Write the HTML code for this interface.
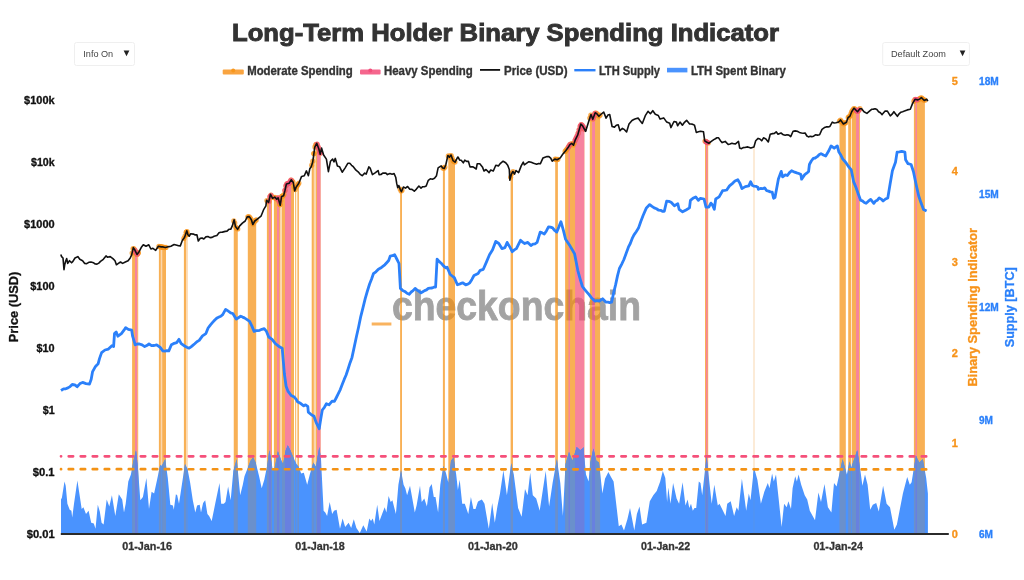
<!DOCTYPE html>
<html><head><meta charset="utf-8"><style>
html,body{margin:0;padding:0;background:#fff;width:1024px;height:580px;overflow:hidden}
svg{display:block;font-family:"Liberation Sans",sans-serif;will-change:transform}
</style></head><body>
<svg width="1024" height="580" viewBox="0 0 1024 580">
<defs>
<clipPath id="cp"><polygon points="60.8,254.5 61.6,256.6 63.0,258.0 64.0,269.7 64.7,264.8 65.8,260.7 66.7,258.6 67.7,263.4 69.5,260.7 71.6,262.8 72.9,261.4 75.0,258.0 77.8,256.6 79.8,259.3 82.6,260.7 84.7,263.4 86.7,263.7 90.9,262.0 93.6,262.8 97.0,264.1 100.5,261.4 103.3,259.3 106.0,255.9 107.4,257.2 110.2,256.6 112.9,258.6 115.0,260.7 116.4,264.8 118.4,263.4 120.5,262.0 122.6,263.4 125.3,262.0 128.1,260.7 130.2,257.9 131.6,255.2 133.3,247.6 135.0,250.3 137.0,254.5 139.1,251.7 141.2,247.6 143.3,244.8 146.0,246.2 148.8,244.8 150.9,249.0 152.9,248.3 155.7,250.3 158.4,246.2 161.2,246.9 165.3,247.6 170.9,246.2 174.1,244.5 176.9,245.2 180.3,245.9 182.4,240.3 184.5,237.6 186.8,230.7 187.9,234.8 189.3,236.2 190.7,233.7 193.4,234.1 196.9,234.8 198.3,241.0 200.3,238.3 203.8,239.0 205.9,236.9 210.0,237.6 214.1,236.2 216.9,235.5 219.0,232.8 222.4,232.1 225.2,231.4 230.7,229.3 232.3,225.9 234.1,219.7 235.5,226.6 237.6,229.3 239.7,225.9 242.4,223.1 245.2,221.0 247.2,216.9 249.3,216.6 251.4,219.7 252.8,224.5 254.8,221.0 258.3,218.3 261.0,216.2 263.8,209.3 265.9,205.9 266.6,200.3 268.6,202.4 270.5,194.3 272.6,198.4 274.7,197.1 276.7,199.1 278.1,197.8 280.2,205.3 281.6,196.4 283.6,195.7 285.0,190.2 286.4,184.0 289.1,183.3 291.2,179.8 293.3,182.6 294.7,190.9 296.0,187.4 298.8,183.3 301.6,176.4 304.3,175.7 306.4,170.9 308.4,175.7 309.8,168.8 311.2,166.7 312.6,162.6 314.0,152.9 314.7,147.4 316.7,143.3 318.8,148.8 320.2,154.3 321.6,148.1 323.6,155.0 326.4,159.1 328.4,171.6 330.5,161.2 332.6,159.1 334.0,161.9 335.3,158.4 337.4,166.0 339.5,166.7 342.2,172.2 345.0,168.1 347.8,163.3 349.8,163.3 353.3,166.7 356.0,170.2 360.2,174.3 362.2,175.7 364.7,173.1 366.2,174.1 368.8,166.9 370.3,168.4 372.4,174.6 375.5,172.6 378.1,170.5 379.1,174.6 382.8,173.1 385.9,173.1 387.4,174.6 390.0,173.6 394.1,173.6 395.7,177.2 396.7,183.4 397.7,187.6 398.8,185.5 400.3,189.6 401.4,191.7 403.4,187.0 405.5,188.1 407.6,186.5 409.6,189.1 414.3,191.2 416.4,189.1 418.9,186.0 421.0,188.1 426.2,186.0 428.3,180.3 430.3,178.8 432.4,179.3 434.5,178.3 436.5,175.7 438.1,167.9 439.6,166.9 441.2,165.9 442.7,167.9 444.3,168.4 445.8,164.8 447.9,155.5 449.5,157.1 451.0,155.0 453.1,160.7 455.1,162.2 457.7,157.1 458.1,157.1 459.7,160.2 461.2,160.2 463.3,162.8 464.8,160.2 468.4,161.2 470.0,166.9 473.1,166.9 476.2,169.0 477.2,163.8 479.8,163.8 482.4,166.9 484.0,171.0 486.0,169.5 489.1,172.6 490.7,170.0 493.3,171.0 495.8,165.3 498.4,165.9 500.5,163.3 503.1,161.2 505.7,162.8 507.7,165.3 509.3,169.5 509.8,180.3 511.4,174.1 512.9,171.5 514.5,174.1 516.0,170.5 518.6,172.6 521.2,165.9 523.3,162.2 524.3,164.8 526.4,163.3 528.9,161.7 533.6,163.3 536.7,164.3 540.3,163.8 542.9,158.1 547.0,156.5 550.7,158.1 552.2,161.2 554.8,159.1 557.2,159.7 560.3,157.9 562.7,154.3 565.7,150.7 568.1,147.6 569.9,144.6 571.7,143.4 573.5,145.2 575.3,139.8 577.7,135.0 580.8,124.1 582.6,125.9 585.6,131.4 588.6,121.7 591.0,114.5 592.8,119.3 595.2,112.7 597.0,113.9 598.9,116.3 600.7,114.5 603.7,112.1 606.1,118.1 607.9,115.1 609.7,114.5 612.1,126.5 614.5,127.1 616.3,125.3 618.2,124.7 620.0,130.8 622.4,128.3 626.6,132.0 629.0,124.1 632.0,120.5 635.6,118.7 638.1,118.1 639.9,120.5 642.3,123.5 645.3,115.7 648.0,111.3 650.4,113.7 652.8,110.7 655.3,114.3 658.3,115.5 660.1,119.1 663.7,117.9 666.7,122.1 669.7,123.3 670.9,127.6 674.0,121.5 676.4,122.1 677.6,125.8 680.0,122.1 682.4,125.2 686.6,120.3 689.6,124.0 694.5,125.2 696.3,132.4 700.5,131.2 703.5,131.8 704.7,140.8 706.5,142.0 708.9,143.3 711.3,141.4 713.8,139.6 718.6,137.8 722.2,142.6 725.2,141.4 728.2,144.5 731.9,143.3 735.5,143.9 738.5,141.4 739.7,148.1 741.5,148.7 744.8,147.5 747.8,146.9 750.9,148.1 753.9,146.9 755.7,140.8 758.1,138.4 759.9,139.0 761.7,140.8 763.5,137.8 765.9,139.0 768.3,142.0 770.2,134.2 772.6,133.6 776.2,131.8 778.0,134.2 781.0,133.0 783.4,134.8 787.0,134.8 790.7,136.6 793.1,131.2 797.3,131.2 801.5,133.0 805.1,133.0 806.9,136.0 811.8,136.6 815.4,134.8 819.6,134.8 822.0,129.4 824.4,127.6 829.9,126.4 832.3,122.1 835.9,122.7 840.0,120.9 840.5,119.9 843.4,124.0 846.4,122.2 848.1,117.5 849.9,116.3 851.7,111.7 854.0,108.1 856.3,110.5 857.5,111.7 859.9,108.7 861.6,108.7 864.0,111.7 866.9,113.4 871.6,109.3 875.1,108.7 878.6,111.7 882.1,114.6 885.1,111.1 887.4,111.1 890.3,115.8 893.9,111.7 897.4,116.3 900.9,112.2 904.4,111.1 907.3,109.9 910.3,109.3 912.6,103.4 915.0,99.3 917.9,99.9 921.4,97.6 924.3,100.5 926.7,99.3 927.9,101.1 927.9,534.0 60.8,534.0"/></clipPath>
<clipPath id="ca"><polygon points="61.0,534.0 61.0,499.5 61.9,497.8 64.5,481.4 65.7,485.7 67.4,503.8 69.7,509.8 71.4,510.7 72.2,517.6 74.0,503.8 77.4,480.5 79.1,491.7 81.7,509.0 83.4,507.2 86.0,514.1 88.6,510.7 91.2,522.8 93.8,523.6 95.5,528.8 97.8,504.7 99.8,511.6 101.6,522.8 103.6,524.5 106.7,499.5 109.3,506.4 111.9,495.2 115.3,515.9 118.8,494.3 122.2,499.5 124.0,512.4 125.7,503.8 128.3,481.4 130.9,474.5 133.4,460.7 136.0,450.3 137.8,465.9 140.3,500.3 142.9,496.9 146.4,477.9 149.0,509.0 151.6,491.7 154.1,493.4 156.7,481.4 160.2,465.0 161.7,465.9 165.2,459.0 167.8,477.9 170.3,504.7 172.9,505.5 173.8,509.8 175.9,494.3 177.2,495.2 179.0,503.8 181.6,486.6 185.0,464.1 187.6,469.3 190.2,483.1 192.8,500.3 195.3,512.4 197.1,505.5 199.7,504.7 201.0,512.4 203.1,502.9 205.2,500.3 207.4,514.1 209.1,515.9 211.7,521.0 215.2,503.8 219.5,483.1 221.2,503.8 223.8,503.8 225.5,502.1 228.1,486.6 230.7,500.3 233.3,471.0 236.7,459.0 240.2,495.2 242.8,484.8 244.5,476.2 247.9,467.6 250.5,460.7 253.1,457.2 255.7,462.4 259.1,476.2 261.7,488.3 264.3,479.7 267.1,465.9 269.3,450.3 271.0,459.0 272.8,470.2 274.5,468.4 277.9,451.2 281.4,460.7 283.1,464.1 285.7,450.3 287.8,445.2 290.0,449.5 293.4,457.2 296.0,463.3 298.6,466.7 301.2,473.6 303.8,472.8 307.2,484.8 309.8,474.5 313.3,462.4 315.9,466.7 319.3,446.9 321.0,459.0 323.6,510.7 325.3,512.4 327.1,515.9 329.7,502.1 332.2,514.1 334.0,510.7 336.6,509.8 340.0,528.8 342.6,518.4 345.2,527.1 348.6,522.8 351.2,527.9 353.8,519.3 356.4,527.9 359.8,533.1 363.3,525.3 366.7,531.4 369.3,518.4 371.0,521.0 372.8,518.4 374.3,524.5 377.2,504.7 379.5,521.0 382.1,514.1 384.7,507.2 386.4,512.4 388.6,496.0 390.7,502.1 392.4,500.3 395.9,514.1 398.4,484.8 401.0,470.2 403.6,484.8 405.3,488.3 407.1,495.2 410.0,485.7 414.8,512.4 416.6,505.5 420.0,485.7 421.7,502.1 424.3,498.6 426.9,506.4 429.5,487.4 431.7,484.0 433.8,496.9 435.5,496.9 438.1,512.4 440.3,484.8 443.3,465.9 445.9,472.8 448.4,483.1 451.0,460.7 453.6,457.2 456.2,474.5 457.9,490.0 459.7,479.7 462.2,503.8 464.8,503.8 468.3,514.1 470.9,496.9 473.4,509.0 475.5,509.0 477.8,502.1 478.4,501.2 481.9,499.5 484.5,503.8 488.8,528.8 492.2,502.9 494.8,522.8 497.4,506.4 500.0,493.4 503.4,470.2 506.9,495.2 511.2,463.3 513.8,474.5 518.1,508.1 521.6,516.7 525.0,489.1 527.6,495.2 530.2,472.8 532.8,495.2 536.2,498.6 539.7,510.7 545.7,471.0 549.1,506.4 552.6,483.1 556.9,459.0 560.3,483.1 562.9,515.9 565.5,464.1 569.0,452.1 572.4,460.7 576.7,446.9 580.2,450.3 582.6,448.6 583.4,446.9 586.0,474.5 588.6,481.4 590.3,462.4 593.4,448.6 596.4,460.7 599.0,462.4 602.4,493.4 605.0,478.8 608.4,471.9 611.0,477.1 613.6,481.4 618.8,526.2 621.4,524.5 624.0,530.5 627.4,519.3 630.0,508.1 634.3,530.5 636.9,514.1 639.5,506.4 642.1,524.5 646.4,522.8 649.8,501.2 653.3,495.2 656.7,490.9 660.2,481.4 662.8,471.0 665.3,477.9 667.1,502.1 668.3,487.4 670.5,503.8 673.1,483.1 676.6,498.6 679.1,503.8 682.6,482.2 685.5,505.5 687.6,499.5 689.3,508.1 691.0,503.8 692.8,510.7 694.5,508.1 696.2,508.1 698.8,481.4 700.5,483.1 702.2,495.2 706.6,455.5 709.1,479.7 711.7,503.8 714.3,484.8 717.8,505.5 719.5,503.8 722.1,509.0 725.5,515.9 727.2,503.8 730.7,501.2 734.1,515.9 736.7,507.2 738.4,510.7 741.9,478.8 746.2,510.7 748.8,493.4 750.5,500.3 754.0,467.6 757.4,479.7 760.9,503.8 764.3,491.7 767.8,483.1 769.5,488.3 772.1,473.6 773.8,481.4 776.0,474.5 779.0,502.1 781.6,527.1 784.1,503.8 786.7,507.2 788.4,501.2 791.0,509.0 792.6,488.3 795.2,476.2 796.9,481.4 798.6,474.5 801.2,484.8 804.7,495.2 807.2,499.5 809.8,510.7 815.0,520.2 818.4,492.6 821.0,502.1 824.5,484.0 827.9,507.2 831.4,512.4 834.0,483.1 836.6,486.6 842.6,459.0 846.9,474.5 849.5,461.6 851.2,467.6 857.2,450.3 859.8,465.9 862.4,485.7 865.0,474.5 867.6,484.8 870.2,509.8 872.8,504.7 876.2,502.9 878.8,511.6 883.1,485.7 886.6,503.8 890.0,507.2 894.3,529.7 896.9,524.5 902.9,493.4 907.2,477.1 909.8,484.8 911.6,482.2 915.9,455.5 919.3,462.4 922.8,459.0 926.2,477.9 927.9,493.4 927.9,534.0"/></clipPath>
<clipPath id="cbars"><rect x="132.10" y="60" width="5.80" height="480" fill="#000" /><rect x="158.90" y="60" width="2.00" height="480" fill="#000" /><rect x="162.10" y="60" width="3.90" height="480" fill="#000" /><rect x="183.90" y="60" width="2.40" height="480" fill="#000" /><rect x="233.75" y="60" width="4.05" height="480" fill="#000" /><rect x="247.80" y="60" width="8.40" height="480" fill="#000" /><rect x="266.90" y="60" width="5.10" height="480" fill="#000" /><rect x="273.90" y="60" width="6.10" height="480" fill="#000" /><rect x="281.90" y="60" width="12.10" height="480" fill="#000" /><rect x="295.20" y="60" width="1.00" height="480" fill="#000" /><rect x="297.40" y="60" width="1.50" height="480" fill="#000" /><rect x="311.70" y="60" width="2.20" height="480" fill="#000" /><rect x="316.00" y="60" width="4.50" height="480" fill="#000" /><rect x="400.10" y="60" width="1.90" height="480" fill="#000" /><rect x="442.90" y="60" width="2.00" height="480" fill="#000" /><rect x="448.30" y="60" width="6.70" height="480" fill="#000" /><rect x="510.60" y="60" width="2.40" height="480" fill="#000" /><rect x="555.20" y="60" width="2.70" height="480" fill="#000" /><rect x="565.10" y="60" width="19.20" height="480" fill="#000" /><rect x="589.80" y="60" width="10.30" height="480" fill="#000" /><rect x="705.00" y="60" width="3.20" height="480" fill="#000" /><rect x="839.50" y="60" width="6.30" height="480" fill="#000" /><rect x="848.20" y="60" width="2.80" height="480" fill="#000" /><rect x="851.70" y="60" width="8.20" height="480" fill="#000" /><rect x="913.90" y="60" width="11.00" height="480" fill="#000" /><rect x="137.90" y="60" width="0.50" height="480" fill="#000" /><rect x="160.90" y="60" width="1.20" height="480" fill="#000" /><rect x="186.30" y="60" width="1.50" height="480" fill="#000" /><rect x="280.00" y="60" width="1.90" height="480" fill="#000" /><rect x="313.90" y="60" width="2.10" height="480" fill="#000" /><rect x="135.00" y="60" width="2.20" height="480" fill="#000" /><rect x="268.80" y="60" width="2.20" height="480" fill="#000" /><rect x="277.00" y="60" width="2.20" height="480" fill="#000" /><rect x="285.00" y="60" width="6.10" height="480" fill="#000" /><rect x="317.00" y="60" width="3.50" height="480" fill="#000" /><rect x="568.50" y="60" width="1.40" height="480" fill="#000" /><rect x="575.10" y="60" width="9.20" height="480" fill="#000" /><rect x="592.10" y="60" width="2.90" height="480" fill="#000" /><rect x="706.00" y="60" width="1.50" height="480" fill="#000" /><rect x="856.10" y="60" width="2.90" height="480" fill="#000" /><rect x="915.50" y="60" width="1.50" height="480" fill="#000" /></clipPath>
<clipPath id="cpink"><rect x="135.00" y="60" width="2.20" height="480" fill="#000" /><rect x="268.80" y="60" width="2.20" height="480" fill="#000" /><rect x="277.00" y="60" width="2.20" height="480" fill="#000" /><rect x="285.00" y="60" width="6.10" height="480" fill="#000" /><rect x="317.00" y="60" width="3.50" height="480" fill="#000" /><rect x="568.50" y="60" width="1.40" height="480" fill="#000" /><rect x="575.10" y="60" width="9.20" height="480" fill="#000" /><rect x="592.10" y="60" width="2.90" height="480" fill="#000" /><rect x="706.00" y="60" width="1.50" height="480" fill="#000" /><rect x="856.10" y="60" width="2.90" height="480" fill="#000" /><rect x="915.50" y="60" width="1.50" height="480" fill="#000" /></clipPath>
</defs>
<text x="392" y="319.5" font-size="40" fill="#A3A3A3" text-anchor="start" font-weight="bold" textLength="249" lengthAdjust="spacingAndGlyphs" stroke="#A3A3A3" stroke-width="0.8">checkonchain</text>
<rect x="371.7" y="322.5" width="19.7" height="3" fill="#F9B35F"/>
<g clip-path="url(#cp)" opacity="0.7"><rect x="132.10" y="60" width="5.80" height="480" fill="#F58F0D" /><rect x="158.90" y="60" width="2.00" height="480" fill="#F58F0D" /><rect x="162.10" y="60" width="3.90" height="480" fill="#F58F0D" /><rect x="183.90" y="60" width="2.40" height="480" fill="#F58F0D" /><rect x="233.75" y="60" width="4.05" height="480" fill="#F58F0D" /><rect x="247.80" y="60" width="8.40" height="480" fill="#F58F0D" /><rect x="266.90" y="60" width="5.10" height="480" fill="#F58F0D" /><rect x="273.90" y="60" width="6.10" height="480" fill="#F58F0D" /><rect x="281.90" y="60" width="12.10" height="480" fill="#F58F0D" /><rect x="295.20" y="60" width="1.00" height="480" fill="#F58F0D" /><rect x="297.40" y="60" width="1.50" height="480" fill="#F58F0D" /><rect x="311.70" y="60" width="2.20" height="480" fill="#F58F0D" /><rect x="316.00" y="60" width="4.50" height="480" fill="#F58F0D" /><rect x="400.10" y="60" width="1.90" height="480" fill="#F58F0D" /><rect x="442.90" y="60" width="2.00" height="480" fill="#F58F0D" /><rect x="448.30" y="60" width="6.70" height="480" fill="#F58F0D" /><rect x="510.60" y="60" width="2.40" height="480" fill="#F58F0D" /><rect x="555.20" y="60" width="2.70" height="480" fill="#F58F0D" /><rect x="565.10" y="60" width="19.20" height="480" fill="#F58F0D" /><rect x="589.80" y="60" width="10.30" height="480" fill="#F58F0D" /><rect x="705.00" y="60" width="3.20" height="480" fill="#F58F0D" /><rect x="839.50" y="60" width="6.30" height="480" fill="#F58F0D" /><rect x="848.20" y="60" width="2.80" height="480" fill="#F58F0D" /><rect x="851.70" y="60" width="8.20" height="480" fill="#F58F0D" /><rect x="913.90" y="60" width="11.00" height="480" fill="#F58F0D" /><rect x="137.90" y="60" width="0.50" height="480" fill="#FAC78A" /><rect x="160.90" y="60" width="1.20" height="480" fill="#FAC78A" /><rect x="186.30" y="60" width="1.50" height="480" fill="#FAC78A" /><rect x="280.00" y="60" width="1.90" height="480" fill="#FAC78A" /><rect x="313.90" y="60" width="2.10" height="480" fill="#FAC78A" /><rect x="753.00" y="60" width="2.00" height="480" fill="#FBE3C6" /><rect x="135.00" y="60" width="2.20" height="480" fill="#F44F76" /><rect x="268.80" y="60" width="2.20" height="480" fill="#F44F76" /><rect x="277.00" y="60" width="2.20" height="480" fill="#F44F76" /><rect x="285.00" y="60" width="6.10" height="480" fill="#F44F76" /><rect x="317.00" y="60" width="3.50" height="480" fill="#F44F76" /><rect x="568.50" y="60" width="1.40" height="480" fill="#F44F76" /><rect x="575.10" y="60" width="9.20" height="480" fill="#F44F76" /><rect x="592.10" y="60" width="2.90" height="480" fill="#F44F76" /><rect x="706.00" y="60" width="1.50" height="480" fill="#F44F76" /><rect x="856.10" y="60" width="2.90" height="480" fill="#F44F76" /><rect x="915.50" y="60" width="1.50" height="480" fill="#F44F76" /></g>
<polygon points="61.0,534.0 61.0,499.5 61.9,497.8 64.5,481.4 65.7,485.7 67.4,503.8 69.7,509.8 71.4,510.7 72.2,517.6 74.0,503.8 77.4,480.5 79.1,491.7 81.7,509.0 83.4,507.2 86.0,514.1 88.6,510.7 91.2,522.8 93.8,523.6 95.5,528.8 97.8,504.7 99.8,511.6 101.6,522.8 103.6,524.5 106.7,499.5 109.3,506.4 111.9,495.2 115.3,515.9 118.8,494.3 122.2,499.5 124.0,512.4 125.7,503.8 128.3,481.4 130.9,474.5 133.4,460.7 136.0,450.3 137.8,465.9 140.3,500.3 142.9,496.9 146.4,477.9 149.0,509.0 151.6,491.7 154.1,493.4 156.7,481.4 160.2,465.0 161.7,465.9 165.2,459.0 167.8,477.9 170.3,504.7 172.9,505.5 173.8,509.8 175.9,494.3 177.2,495.2 179.0,503.8 181.6,486.6 185.0,464.1 187.6,469.3 190.2,483.1 192.8,500.3 195.3,512.4 197.1,505.5 199.7,504.7 201.0,512.4 203.1,502.9 205.2,500.3 207.4,514.1 209.1,515.9 211.7,521.0 215.2,503.8 219.5,483.1 221.2,503.8 223.8,503.8 225.5,502.1 228.1,486.6 230.7,500.3 233.3,471.0 236.7,459.0 240.2,495.2 242.8,484.8 244.5,476.2 247.9,467.6 250.5,460.7 253.1,457.2 255.7,462.4 259.1,476.2 261.7,488.3 264.3,479.7 267.1,465.9 269.3,450.3 271.0,459.0 272.8,470.2 274.5,468.4 277.9,451.2 281.4,460.7 283.1,464.1 285.7,450.3 287.8,445.2 290.0,449.5 293.4,457.2 296.0,463.3 298.6,466.7 301.2,473.6 303.8,472.8 307.2,484.8 309.8,474.5 313.3,462.4 315.9,466.7 319.3,446.9 321.0,459.0 323.6,510.7 325.3,512.4 327.1,515.9 329.7,502.1 332.2,514.1 334.0,510.7 336.6,509.8 340.0,528.8 342.6,518.4 345.2,527.1 348.6,522.8 351.2,527.9 353.8,519.3 356.4,527.9 359.8,533.1 363.3,525.3 366.7,531.4 369.3,518.4 371.0,521.0 372.8,518.4 374.3,524.5 377.2,504.7 379.5,521.0 382.1,514.1 384.7,507.2 386.4,512.4 388.6,496.0 390.7,502.1 392.4,500.3 395.9,514.1 398.4,484.8 401.0,470.2 403.6,484.8 405.3,488.3 407.1,495.2 410.0,485.7 414.8,512.4 416.6,505.5 420.0,485.7 421.7,502.1 424.3,498.6 426.9,506.4 429.5,487.4 431.7,484.0 433.8,496.9 435.5,496.9 438.1,512.4 440.3,484.8 443.3,465.9 445.9,472.8 448.4,483.1 451.0,460.7 453.6,457.2 456.2,474.5 457.9,490.0 459.7,479.7 462.2,503.8 464.8,503.8 468.3,514.1 470.9,496.9 473.4,509.0 475.5,509.0 477.8,502.1 478.4,501.2 481.9,499.5 484.5,503.8 488.8,528.8 492.2,502.9 494.8,522.8 497.4,506.4 500.0,493.4 503.4,470.2 506.9,495.2 511.2,463.3 513.8,474.5 518.1,508.1 521.6,516.7 525.0,489.1 527.6,495.2 530.2,472.8 532.8,495.2 536.2,498.6 539.7,510.7 545.7,471.0 549.1,506.4 552.6,483.1 556.9,459.0 560.3,483.1 562.9,515.9 565.5,464.1 569.0,452.1 572.4,460.7 576.7,446.9 580.2,450.3 582.6,448.6 583.4,446.9 586.0,474.5 588.6,481.4 590.3,462.4 593.4,448.6 596.4,460.7 599.0,462.4 602.4,493.4 605.0,478.8 608.4,471.9 611.0,477.1 613.6,481.4 618.8,526.2 621.4,524.5 624.0,530.5 627.4,519.3 630.0,508.1 634.3,530.5 636.9,514.1 639.5,506.4 642.1,524.5 646.4,522.8 649.8,501.2 653.3,495.2 656.7,490.9 660.2,481.4 662.8,471.0 665.3,477.9 667.1,502.1 668.3,487.4 670.5,503.8 673.1,483.1 676.6,498.6 679.1,503.8 682.6,482.2 685.5,505.5 687.6,499.5 689.3,508.1 691.0,503.8 692.8,510.7 694.5,508.1 696.2,508.1 698.8,481.4 700.5,483.1 702.2,495.2 706.6,455.5 709.1,479.7 711.7,503.8 714.3,484.8 717.8,505.5 719.5,503.8 722.1,509.0 725.5,515.9 727.2,503.8 730.7,501.2 734.1,515.9 736.7,507.2 738.4,510.7 741.9,478.8 746.2,510.7 748.8,493.4 750.5,500.3 754.0,467.6 757.4,479.7 760.9,503.8 764.3,491.7 767.8,483.1 769.5,488.3 772.1,473.6 773.8,481.4 776.0,474.5 779.0,502.1 781.6,527.1 784.1,503.8 786.7,507.2 788.4,501.2 791.0,509.0 792.6,488.3 795.2,476.2 796.9,481.4 798.6,474.5 801.2,484.8 804.7,495.2 807.2,499.5 809.8,510.7 815.0,520.2 818.4,492.6 821.0,502.1 824.5,484.0 827.9,507.2 831.4,512.4 834.0,483.1 836.6,486.6 842.6,459.0 846.9,474.5 849.5,461.6 851.2,467.6 857.2,450.3 859.8,465.9 862.4,485.7 865.0,474.5 867.6,484.8 870.2,509.8 872.8,504.7 876.2,502.9 878.8,511.6 883.1,485.7 886.6,503.8 890.0,507.2 894.3,529.7 896.9,524.5 902.9,493.4 907.2,477.1 909.8,484.8 911.6,482.2 915.9,455.5 919.3,462.4 922.8,459.0 926.2,477.9 927.9,493.4 927.9,534.0" fill="#4A93FE"/>
<g clip-path="url(#ca)"><rect x="132.10" y="60" width="5.80" height="480" fill="#6A90CC" /><rect x="158.90" y="60" width="2.00" height="480" fill="#6A90CC" /><rect x="162.10" y="60" width="3.90" height="480" fill="#6A90CC" /><rect x="183.90" y="60" width="2.40" height="480" fill="#6A90CC" /><rect x="233.75" y="60" width="4.05" height="480" fill="#6A90CC" /><rect x="247.80" y="60" width="8.40" height="480" fill="#6A90CC" /><rect x="266.90" y="60" width="5.10" height="480" fill="#6A90CC" /><rect x="273.90" y="60" width="6.10" height="480" fill="#6A90CC" /><rect x="281.90" y="60" width="12.10" height="480" fill="#6A90CC" /><rect x="295.20" y="60" width="1.00" height="480" fill="#6A90CC" /><rect x="297.40" y="60" width="1.50" height="480" fill="#6A90CC" /><rect x="311.70" y="60" width="2.20" height="480" fill="#6A90CC" /><rect x="316.00" y="60" width="4.50" height="480" fill="#6A90CC" /><rect x="400.10" y="60" width="1.90" height="480" fill="#6A90CC" /><rect x="442.90" y="60" width="2.00" height="480" fill="#6A90CC" /><rect x="448.30" y="60" width="6.70" height="480" fill="#6A90CC" /><rect x="510.60" y="60" width="2.40" height="480" fill="#6A90CC" /><rect x="555.20" y="60" width="2.70" height="480" fill="#6A90CC" /><rect x="565.10" y="60" width="19.20" height="480" fill="#6A90CC" /><rect x="589.80" y="60" width="10.30" height="480" fill="#6A90CC" /><rect x="705.00" y="60" width="3.20" height="480" fill="#6A90CC" /><rect x="839.50" y="60" width="6.30" height="480" fill="#6A90CC" /><rect x="848.20" y="60" width="2.80" height="480" fill="#6A90CC" /><rect x="851.70" y="60" width="8.20" height="480" fill="#6A90CC" /><rect x="913.90" y="60" width="11.00" height="480" fill="#6A90CC" /><rect x="137.90" y="60" width="0.50" height="480" fill="#5A92E6" /><rect x="160.90" y="60" width="1.20" height="480" fill="#5A92E6" /><rect x="186.30" y="60" width="1.50" height="480" fill="#5A92E6" /><rect x="280.00" y="60" width="1.90" height="480" fill="#5A92E6" /><rect x="313.90" y="60" width="2.10" height="480" fill="#5A92E6" /><rect x="753.00" y="60" width="2.00" height="480" fill="#4F93F5" /><rect x="135.00" y="60" width="2.20" height="480" fill="#6880E0" /><rect x="268.80" y="60" width="2.20" height="480" fill="#6880E0" /><rect x="277.00" y="60" width="2.20" height="480" fill="#6880E0" /><rect x="285.00" y="60" width="6.10" height="480" fill="#6880E0" /><rect x="317.00" y="60" width="3.50" height="480" fill="#6880E0" /><rect x="568.50" y="60" width="1.40" height="480" fill="#6880E0" /><rect x="575.10" y="60" width="9.20" height="480" fill="#6880E0" /><rect x="592.10" y="60" width="2.90" height="480" fill="#6880E0" /><rect x="706.00" y="60" width="1.50" height="480" fill="#6880E0" /><rect x="856.10" y="60" width="2.90" height="480" fill="#6880E0" /><rect x="915.50" y="60" width="1.50" height="480" fill="#6880E0" /></g>
<line x1="61" y1="456.3" x2="927.9" y2="456.4" stroke="#F5507A" stroke-width="2.7" stroke-linecap="round" stroke-dasharray="4.4 7.615" stroke-dashoffset="4.3"/>
<line x1="61" y1="469.2" x2="927.9" y2="469.4" stroke="#F39215" stroke-width="2.7" stroke-linecap="round" stroke-dasharray="4.4 7.615" stroke-dashoffset="4.3"/>
<polyline points="61.0,390.5 63.6,388.8 65.8,388.8 67.9,387.9 70.1,386.6 72.2,384.5 74.8,384.8 77.1,386.7 80.0,383.6 82.6,382.4 86.0,383.6 89.5,384.1 91.2,379.3 92.6,371.6 95.5,366.4 98.1,363.8 99.5,358.6 101.6,352.6 105.0,350.0 108.4,349.1 111.9,345.7 113.6,346.6 114.5,333.6 116.2,331.9 117.9,336.2 121.4,333.6 124.0,330.2 125.7,327.6 128.3,329.3 131.7,330.2 132.6,336.2 135.2,344.8 137.3,344.0 139.5,344.0 142.1,344.9 144.7,346.6 146.8,345.6 149.0,344.0 151.6,345.7 154.1,345.5 156.7,344.8 160.2,347.4 162.8,350.9 164.8,351.1 166.8,350.7 168.8,350.9 171.4,344.8 173.4,343.7 176.7,342.6 179.0,339.3 181.2,343.7 184.6,346.0 186.8,347.2 189.1,348.2 191.0,346.8 192.8,345.3 194.7,343.7 196.9,341.7 199.2,340.4 202.5,335.9 205.9,333.6 208.1,328.0 210.3,325.1 212.6,322.4 214.8,320.0 217.1,317.9 219.0,317.0 220.8,316.2 222.7,314.6 225.6,309.4 228.3,311.2 230.6,312.8 232.8,313.5 236.2,319.1 238.4,317.7 240.7,316.2 242.6,317.1 244.4,317.9 246.3,319.1 249.6,321.3 251.8,325.9 254.1,331.4 256.0,330.6 257.8,330.6 259.7,330.3 261.9,329.3 264.2,328.7 266.5,331.4 268.7,337.0 272.1,339.3 275.4,343.7 277.6,345.3 279.9,347.1 282.2,348.2 284.4,374.0 286.1,386.2 288.1,391.4 291.2,395.5 294.3,397.1 296.4,399.7 297.4,401.7 300.5,403.3 303.7,405.9 305.2,404.8 307.8,406.4 308.3,412.1 311.4,414.7 314.0,416.2 316.1,422.4 319.2,428.7 320.7,419.3 322.3,410.0 324.4,407.3 326.4,403.8 329.0,404.8 332.1,401.2 334.4,401.4 336.4,397.5 338.3,393.6 340.3,389.6 342.2,384.5 344.2,379.4 346.1,375.0 348.1,369.0 350.0,362.9 352.0,357.4 354.2,347.1 356.4,336.8 358.6,327.0 360.8,316.3 363.0,307.7 365.2,298.7 367.4,291.0 369.6,284.0 371.5,279.2 373.4,273.7 375.9,271.8 378.4,269.3 380.6,268.1 382.8,266.4 384.8,264.8 386.7,262.7 388.7,260.5 390.2,256.1 392.4,255.7 394.6,254.7 396.8,259.0 399.0,263.5 400.4,288.4 402.6,290.4 404.8,291.4 407.0,293.3 409.2,294.3 411.2,292.0 413.1,290.6 415.1,288.4 417.1,290.1 419.0,291.3 421.0,292.8 422.8,291.7 424.6,290.6 426.5,289.9 428.3,288.4 430.1,288.1 432.0,288.0 433.8,287.2 435.6,287.0 437.1,259.1 439.3,261.7 441.5,263.5 443.7,266.1 445.9,267.9 447.1,267.2 450.2,274.5 452.2,276.0 454.3,277.6 457.4,284.8 460.0,283.9 462.6,282.8 465.7,284.8 467.8,284.2 469.8,282.8 471.9,279.4 474.0,275.5 476.1,274.5 478.1,273.5 480.2,270.3 483.3,269.3 486.4,262.1 489.5,254.8 492.6,249.7 495.7,241.4 498.8,243.5 501.9,248.6 505.0,247.6 507.1,242.4 510.2,247.6 512.2,251.7 514.3,249.9 516.4,248.6 518.5,244.3 520.5,240.3 522.6,242.1 524.7,243.5 527.8,242.4 530.9,245.5 533.0,244.1 535.0,243.8 537.1,242.4 540.2,232.1 542.2,232.9 544.3,234.1 546.4,230.9 548.5,226.9 550.5,227.2 552.6,227.9 554.7,230.5 556.7,232.1 558.8,227.1 560.9,221.7 563.4,230.4 565.6,239.3 567.9,242.7 570.1,246.1 572.4,250.0 574.6,253.9 577.9,270.8 580.1,278.8 582.4,286.5 584.6,289.4 586.9,292.1 589.1,294.7 591.4,297.7 594.8,301.0 597.0,300.7 599.3,301.0 602.6,298.8 606.0,302.2 607.9,302.2 609.7,302.6 611.6,302.2 613.8,292.1 615.7,284.4 617.5,275.9 619.4,268.5 621.6,264.3 623.9,259.5 626.1,253.6 628.4,247.2 630.3,243.5 632.1,238.7 634.0,234.9 636.2,231.7 638.5,228.1 640.8,221.5 643.0,215.8 646.4,207.9 649.7,204.6 652.0,206.4 654.2,207.9 656.5,208.8 658.7,210.2 660.6,210.3 662.4,211.3 664.3,211.3 666.6,201.2 668.9,201.4 671.1,202.3 674.4,205.7 677.8,203.8 679.1,209.3 682.6,211.8 686.0,210.0 689.5,207.9 690.4,200.3 692.9,198.3 695.7,196.9 698.4,200.3 700.5,198.3 704.0,199.0 706.0,207.2 708.8,207.2 710.9,203.1 712.2,204.5 714.3,209.3 715.7,199.0 719.1,196.9 722.6,190.7 724.7,190.4 726.7,190.0 729.5,185.9 732.9,183.1 735.0,181.0 737.8,179.7 739.8,183.1 741.9,188.6 745.3,186.6 748.8,185.9 750.6,181.7 752.2,185.2 754.1,186.2 755.9,186.3 757.8,187.2 758.4,189.3 760.5,188.5 762.6,188.7 764.7,187.9 766.7,190.7 768.5,191.1 770.4,191.9 772.2,192.1 773.6,198.3 775.0,197.6 778.4,179.0 781.2,171.4 782.6,176.9 785.3,174.8 787.4,175.5 789.5,172.6 791.6,170.7 794.7,172.2 796.8,172.9 798.8,173.5 800.9,174.6 801.6,179.2 804.7,174.6 806.7,173.2 808.6,171.5 809.4,164.5 811.3,161.0 813.3,158.3 815.2,158.0 817.2,156.7 819.1,154.7 821.0,153.6 823.4,155.0 825.7,156.0 828.5,151.3 831.1,145.9 834.2,148.2 837.3,145.9 838.9,152.1 840.8,155.1 842.8,159.1 844.7,161.2 846.6,163.7 849.0,167.1 851.3,169.9 853.6,181.6 856.0,187.5 858.3,194.0 860.6,200.2 862.4,200.9 864.3,202.5 866.1,203.3 868.4,201.2 870.7,199.4 873.8,203.3 875.6,201.0 877.4,200.2 879.2,197.9 881.2,199.1 883.1,201.0 885.5,199.0 887.8,197.9 890.1,184.1 892.4,170.7 895.5,162.2 897.1,152.1 899.4,151.8 901.7,151.3 904.9,152.1 905.6,159.8 908.0,163.7 911.1,164.5 913.4,171.5 916.5,186.2 918.8,196.3 921.1,203.1 923.5,209.5 926.6,211.0" fill="none" stroke="#2B80FA" stroke-width="2.8" stroke-linejoin="round"/>
<g fill="#F7931A" fill-opacity="0.75"><circle cx="132.1" cy="253.0" r="2.6"/><circle cx="133.1" cy="248.6" r="2.6"/><circle cx="134.0" cy="248.8" r="2.6"/><circle cx="135.0" cy="250.3" r="2.6"/><circle cx="136.0" cy="252.3" r="2.6"/><circle cx="136.9" cy="254.4" r="2.6"/><circle cx="137.9" cy="253.3" r="2.6"/><circle cx="158.9" cy="246.3" r="2.6"/><circle cx="159.9" cy="246.6" r="2.6"/><circle cx="160.9" cy="246.8" r="2.6"/><circle cx="162.1" cy="247.1" r="2.6"/><circle cx="163.1" cy="247.2" r="2.6"/><circle cx="164.1" cy="247.4" r="2.6"/><circle cx="165.0" cy="247.6" r="2.6"/><circle cx="166.0" cy="247.4" r="2.6"/><circle cx="183.9" cy="238.4" r="2.6"/><circle cx="185.1" cy="235.8" r="2.6"/><circle cx="186.3" cy="232.2" r="2.6"/><circle cx="233.8" cy="220.9" r="2.6"/><circle cx="234.8" cy="223.0" r="2.6"/><circle cx="235.8" cy="227.0" r="2.6"/><circle cx="236.8" cy="228.3" r="2.6"/><circle cx="237.8" cy="229.0" r="2.6"/><circle cx="247.8" cy="216.8" r="2.6"/><circle cx="248.9" cy="216.7" r="2.6"/><circle cx="249.9" cy="217.5" r="2.6"/><circle cx="250.9" cy="219.0" r="2.6"/><circle cx="252.0" cy="221.8" r="2.6"/><circle cx="253.1" cy="224.1" r="2.6"/><circle cx="254.1" cy="222.2" r="2.6"/><circle cx="255.1" cy="220.7" r="2.6"/><circle cx="256.2" cy="219.9" r="2.6"/><circle cx="266.9" cy="200.6" r="2.6"/><circle cx="267.9" cy="201.7" r="2.6"/><circle cx="268.9" cy="201.0" r="2.6"/><circle cx="270.0" cy="196.6" r="2.6"/><circle cx="271.0" cy="195.2" r="2.6"/><circle cx="272.0" cy="197.2" r="2.6"/><circle cx="273.9" cy="197.6" r="2.6"/><circle cx="274.9" cy="197.3" r="2.6"/><circle cx="275.9" cy="198.3" r="2.6"/><circle cx="276.9" cy="198.9" r="2.6"/><circle cx="278.0" cy="197.9" r="2.6"/><circle cx="279.0" cy="201.0" r="2.6"/><circle cx="280.0" cy="204.6" r="2.6"/><circle cx="281.9" cy="196.3" r="2.6"/><circle cx="282.9" cy="195.9" r="2.6"/><circle cx="283.9" cy="194.5" r="2.6"/><circle cx="284.9" cy="190.5" r="2.6"/><circle cx="285.9" cy="186.1" r="2.6"/><circle cx="286.9" cy="183.9" r="2.6"/><circle cx="287.9" cy="183.6" r="2.6"/><circle cx="289.0" cy="183.3" r="2.6"/><circle cx="290.0" cy="181.9" r="2.6"/><circle cx="291.0" cy="180.2" r="2.6"/><circle cx="292.0" cy="180.8" r="2.6"/><circle cx="293.0" cy="182.2" r="2.6"/><circle cx="294.0" cy="186.8" r="2.6"/><circle cx="295.2" cy="189.6" r="2.6"/><circle cx="296.2" cy="187.1" r="2.6"/><circle cx="297.4" cy="185.4" r="2.6"/><circle cx="298.1" cy="184.3" r="2.6"/><circle cx="298.9" cy="183.1" r="2.6"/><circle cx="311.7" cy="165.2" r="2.6"/><circle cx="312.8" cy="161.2" r="2.6"/><circle cx="313.9" cy="153.6" r="2.6"/><circle cx="316.0" cy="144.7" r="2.6"/><circle cx="317.1" cy="144.4" r="2.6"/><circle cx="318.2" cy="147.4" r="2.6"/><circle cx="319.4" cy="151.1" r="2.6"/><circle cx="320.5" cy="153.0" r="2.6"/><circle cx="400.1" cy="189.1" r="2.6"/><circle cx="401.1" cy="191.0" r="2.6"/><circle cx="402.0" cy="190.3" r="2.6"/><circle cx="442.9" cy="168.0" r="2.6"/><circle cx="443.9" cy="168.3" r="2.6"/><circle cx="444.9" cy="167.0" r="2.6"/><circle cx="448.3" cy="155.9" r="2.6"/><circle cx="449.3" cy="156.9" r="2.6"/><circle cx="450.2" cy="156.1" r="2.6"/><circle cx="451.2" cy="155.5" r="2.6"/><circle cx="452.1" cy="158.1" r="2.6"/><circle cx="453.1" cy="160.7" r="2.6"/><circle cx="454.0" cy="161.4" r="2.6"/><circle cx="455.0" cy="162.1" r="2.6"/><circle cx="510.6" cy="177.2" r="2.6"/><circle cx="511.8" cy="173.4" r="2.6"/><circle cx="513.0" cy="171.7" r="2.6"/><circle cx="555.2" cy="159.2" r="2.6"/><circle cx="556.1" cy="159.4" r="2.6"/><circle cx="557.0" cy="159.6" r="2.6"/><circle cx="557.9" cy="159.3" r="2.6"/><circle cx="565.1" cy="151.4" r="2.6"/><circle cx="566.1" cy="150.2" r="2.6"/><circle cx="567.1" cy="148.9" r="2.6"/><circle cx="568.1" cy="147.5" r="2.6"/><circle cx="569.1" cy="145.9" r="2.6"/><circle cx="570.2" cy="144.4" r="2.6"/><circle cx="571.2" cy="143.8" r="2.6"/><circle cx="572.2" cy="143.9" r="2.6"/><circle cx="573.2" cy="144.9" r="2.6"/><circle cx="574.2" cy="143.1" r="2.6"/><circle cx="575.2" cy="140.1" r="2.6"/><circle cx="576.2" cy="138.0" r="2.6"/><circle cx="577.2" cy="135.9" r="2.6"/><circle cx="578.2" cy="133.1" r="2.6"/><circle cx="579.2" cy="129.6" r="2.6"/><circle cx="580.3" cy="126.0" r="2.6"/><circle cx="581.3" cy="124.6" r="2.6"/><circle cx="582.3" cy="125.6" r="2.6"/><circle cx="583.3" cy="127.2" r="2.6"/><circle cx="584.3" cy="129.0" r="2.6"/><circle cx="589.8" cy="118.1" r="2.6"/><circle cx="590.8" cy="115.0" r="2.6"/><circle cx="591.9" cy="116.8" r="2.6"/><circle cx="592.9" cy="119.1" r="2.6"/><circle cx="593.9" cy="116.2" r="2.6"/><circle cx="595.0" cy="113.4" r="2.6"/><circle cx="596.0" cy="113.2" r="2.6"/><circle cx="597.0" cy="113.9" r="2.6"/><circle cx="598.0" cy="115.2" r="2.6"/><circle cx="599.1" cy="116.1" r="2.6"/><circle cx="600.1" cy="115.1" r="2.6"/><circle cx="705.0" cy="141.0" r="2.6"/><circle cx="706.1" cy="141.7" r="2.6"/><circle cx="707.1" cy="142.3" r="2.6"/><circle cx="708.2" cy="142.9" r="2.6"/><circle cx="839.5" cy="121.1" r="2.6"/><circle cx="840.5" cy="120.0" r="2.6"/><circle cx="841.6" cy="121.5" r="2.6"/><circle cx="842.6" cy="122.9" r="2.6"/><circle cx="843.7" cy="123.8" r="2.6"/><circle cx="844.8" cy="123.2" r="2.6"/><circle cx="845.8" cy="122.6" r="2.6"/><circle cx="848.2" cy="117.4" r="2.6"/><circle cx="849.1" cy="116.8" r="2.6"/><circle cx="850.1" cy="115.9" r="2.6"/><circle cx="851.0" cy="113.5" r="2.6"/><circle cx="851.7" cy="111.7" r="2.6"/><circle cx="852.7" cy="110.1" r="2.6"/><circle cx="853.8" cy="108.5" r="2.6"/><circle cx="854.8" cy="108.9" r="2.6"/><circle cx="855.8" cy="110.0" r="2.6"/><circle cx="856.8" cy="111.0" r="2.6"/><circle cx="857.9" cy="111.3" r="2.6"/><circle cx="858.9" cy="110.0" r="2.6"/><circle cx="859.9" cy="108.7" r="2.6"/><circle cx="913.9" cy="101.2" r="2.6"/><circle cx="914.9" cy="99.5" r="2.6"/><circle cx="915.9" cy="99.5" r="2.6"/><circle cx="916.9" cy="99.7" r="2.6"/><circle cx="917.9" cy="99.9" r="2.6"/><circle cx="918.9" cy="99.2" r="2.6"/><circle cx="919.9" cy="98.6" r="2.6"/><circle cx="920.9" cy="97.9" r="2.6"/><circle cx="921.9" cy="98.1" r="2.6"/><circle cx="922.9" cy="99.1" r="2.6"/><circle cx="923.9" cy="100.1" r="2.6"/><circle cx="924.9" cy="100.2" r="2.6"/><circle cx="137.9" cy="253.3" r="2.6"/><circle cx="138.4" cy="252.6" r="2.6"/><circle cx="160.9" cy="246.8" r="2.6"/><circle cx="162.1" cy="247.1" r="2.6"/><circle cx="186.3" cy="232.2" r="2.6"/><circle cx="187.1" cy="231.6" r="2.6"/><circle cx="187.8" cy="234.4" r="2.6"/><circle cx="280.0" cy="204.6" r="2.6"/><circle cx="280.9" cy="200.5" r="2.6"/><circle cx="281.9" cy="196.3" r="2.6"/><circle cx="313.9" cy="153.6" r="2.6"/><circle cx="314.9" cy="146.9" r="2.6"/><circle cx="316.0" cy="144.7" r="2.6"/></g>
<g fill="#F24F7C" fill-opacity="0.75"><circle cx="135.0" cy="250.3" r="2.6"/><circle cx="136.1" cy="252.6" r="2.6"/><circle cx="137.2" cy="254.2" r="2.6"/><circle cx="268.8" cy="201.5" r="2.6"/><circle cx="269.9" cy="196.9" r="2.6"/><circle cx="271.0" cy="195.3" r="2.6"/><circle cx="277.0" cy="198.8" r="2.6"/><circle cx="278.1" cy="197.8" r="2.6"/><circle cx="279.2" cy="201.7" r="2.6"/><circle cx="285.0" cy="190.2" r="2.6"/><circle cx="286.0" cy="185.7" r="2.6"/><circle cx="287.0" cy="183.8" r="2.6"/><circle cx="288.1" cy="183.6" r="2.6"/><circle cx="289.1" cy="183.3" r="2.6"/><circle cx="290.1" cy="181.7" r="2.6"/><circle cx="291.1" cy="180.0" r="2.6"/><circle cx="317.0" cy="144.1" r="2.6"/><circle cx="317.9" cy="146.4" r="2.6"/><circle cx="318.8" cy="148.7" r="2.6"/><circle cx="319.6" cy="152.0" r="2.6"/><circle cx="320.5" cy="153.0" r="2.6"/><circle cx="568.5" cy="146.9" r="2.6"/><circle cx="569.9" cy="144.6" r="2.6"/><circle cx="575.1" cy="140.4" r="2.6"/><circle cx="576.1" cy="138.2" r="2.6"/><circle cx="577.1" cy="136.1" r="2.6"/><circle cx="578.2" cy="133.4" r="2.6"/><circle cx="579.2" cy="129.8" r="2.6"/><circle cx="580.2" cy="126.2" r="2.6"/><circle cx="581.2" cy="124.5" r="2.6"/><circle cx="582.3" cy="125.6" r="2.6"/><circle cx="583.3" cy="127.1" r="2.6"/><circle cx="584.3" cy="129.0" r="2.6"/><circle cx="592.1" cy="117.4" r="2.6"/><circle cx="593.1" cy="118.6" r="2.6"/><circle cx="594.0" cy="115.9" r="2.6"/><circle cx="595.0" cy="113.3" r="2.6"/><circle cx="706.0" cy="141.7" r="2.6"/><circle cx="706.8" cy="142.1" r="2.6"/><circle cx="707.5" cy="142.5" r="2.6"/><circle cx="856.1" cy="110.3" r="2.6"/><circle cx="857.1" cy="111.3" r="2.6"/><circle cx="858.0" cy="111.0" r="2.6"/><circle cx="859.0" cy="109.8" r="2.6"/><circle cx="915.5" cy="99.4" r="2.6"/><circle cx="916.2" cy="99.6" r="2.6"/><circle cx="917.0" cy="99.7" r="2.6"/></g>
<polyline points="60.8,254.5 61.6,256.6 63.0,258.0 64.0,269.7 64.7,264.8 65.8,260.7 66.7,258.6 67.7,263.4 69.5,260.7 71.6,262.8 72.9,261.4 75.0,258.0 77.8,256.6 79.8,259.3 82.6,260.7 84.7,263.4 86.7,263.7 88.8,262.3 90.9,262.0 93.6,262.8 95.3,264.0 97.0,264.1 98.8,263.1 100.5,261.4 103.3,259.3 106.0,255.9 107.4,257.2 110.2,256.6 112.9,258.6 115.0,260.7 116.4,264.8 118.4,263.4 120.5,262.0 122.6,263.4 125.3,262.0 128.1,260.7 130.2,257.9 131.6,255.2 133.3,247.6 135.0,250.3 137.0,254.5 139.1,251.7 141.2,247.6 143.3,244.8 146.0,246.2 148.8,244.8 150.9,249.0 152.9,248.3 155.7,250.3 158.4,246.2 161.2,246.9 163.2,246.9 165.3,247.6 167.2,247.1 169.0,246.6 170.9,246.2 174.1,244.5 176.9,245.2 178.6,245.8 180.3,245.9 182.4,240.3 184.5,237.6 186.8,230.7 187.9,234.8 189.3,236.2 190.7,233.7 193.4,234.1 195.2,234.9 196.9,234.8 198.3,241.0 200.3,238.3 202.1,238.0 203.8,239.0 205.9,236.9 207.9,236.5 210.0,237.6 212.1,237.4 214.1,236.2 216.9,235.5 219.0,232.8 220.7,232.3 222.4,232.1 225.2,231.4 227.0,231.1 228.9,229.3 230.7,229.3 232.3,225.9 234.1,219.7 235.5,226.6 237.6,229.3 239.7,225.9 242.4,223.1 245.2,221.0 247.2,216.9 249.3,216.6 251.4,219.7 252.8,224.5 254.8,221.0 256.6,219.6 258.3,218.3 261.0,216.2 263.8,209.3 265.9,205.9 266.6,200.3 268.6,202.4 270.5,194.3 272.6,198.4 274.7,197.1 276.7,199.1 278.1,197.8 280.2,205.3 281.6,196.4 283.6,195.7 285.0,190.2 286.4,184.0 289.1,183.3 291.2,179.8 293.3,182.6 294.7,190.9 296.0,187.4 298.8,183.3 301.6,176.4 304.3,175.7 306.4,170.9 308.4,175.7 309.8,168.8 311.2,166.7 312.6,162.6 314.0,152.9 314.7,147.4 316.7,143.3 318.8,148.8 320.2,154.3 321.6,148.1 323.6,155.0 326.4,159.1 328.4,171.6 330.5,161.2 332.6,159.1 334.0,161.9 335.3,158.4 337.4,166.0 339.5,166.7 342.2,172.2 345.0,168.1 347.8,163.3 349.8,163.3 351.6,165.3 353.3,166.7 356.0,170.2 358.1,171.8 360.2,174.3 362.2,175.7 364.7,173.1 366.2,174.1 368.8,166.9 370.3,168.4 372.4,174.6 375.5,172.6 378.1,170.5 379.1,174.6 381.0,174.5 382.8,173.1 385.9,173.1 387.4,174.6 390.0,173.6 392.1,174.2 394.1,173.6 395.7,177.2 396.7,183.4 397.7,187.6 398.8,185.5 400.3,189.6 401.4,191.7 403.4,187.0 405.5,188.1 407.6,186.5 409.6,189.1 412.0,189.4 414.3,191.2 416.4,189.1 418.9,186.0 421.0,188.1 422.7,186.7 424.5,186.8 426.2,186.0 428.3,180.3 430.3,178.8 432.4,179.3 434.5,178.3 436.5,175.7 438.1,167.9 439.6,166.9 441.2,165.9 442.7,167.9 444.3,168.4 445.8,164.8 447.9,155.5 449.5,157.1 451.0,155.0 453.1,160.7 455.1,162.2 457.7,157.1 458.1,157.1 459.7,160.2 461.2,160.2 463.3,162.8 464.8,160.2 466.6,161.4 468.4,161.2 470.0,166.9 473.1,166.9 476.2,169.0 477.2,163.8 479.8,163.8 482.4,166.9 484.0,171.0 486.0,169.5 489.1,172.6 490.7,170.0 493.3,171.0 495.8,165.3 498.4,165.9 500.5,163.3 503.1,161.2 505.7,162.8 507.7,165.3 509.3,169.5 509.8,180.3 511.4,174.1 512.9,171.5 514.5,174.1 516.0,170.5 518.6,172.6 521.2,165.9 523.3,162.2 524.3,164.8 526.4,163.3 528.9,161.7 531.2,162.3 533.6,163.3 536.7,164.3 538.5,163.6 540.3,163.8 542.9,158.1 545.0,157.2 547.0,156.5 548.9,156.6 550.7,158.1 552.2,161.2 554.8,159.1 557.2,159.7 560.3,157.9 562.7,154.3 565.7,150.7 568.1,147.6 569.9,144.6 571.7,143.4 573.5,145.2 575.3,139.8 577.7,135.0 580.8,124.1 582.6,125.9 585.6,131.4 588.6,121.7 591.0,114.5 592.8,119.3 595.2,112.7 597.0,113.9 598.9,116.3 600.7,114.5 603.7,112.1 606.1,118.1 607.9,115.1 609.7,114.5 612.1,126.5 614.5,127.1 616.3,125.3 618.2,124.7 620.0,130.8 622.4,128.3 624.5,129.7 626.6,132.0 629.0,124.1 632.0,120.5 633.8,119.5 635.6,118.7 638.1,118.1 639.9,120.5 642.3,123.5 645.3,115.7 648.0,111.3 650.4,113.7 652.8,110.7 655.3,114.3 658.3,115.5 660.1,119.1 661.9,118.5 663.7,117.9 666.7,122.1 669.7,123.3 670.9,127.6 674.0,121.5 676.4,122.1 677.6,125.8 680.0,122.1 682.4,125.2 684.5,122.3 686.6,120.3 689.6,124.0 691.2,124.0 692.9,124.4 694.5,125.2 696.3,132.4 698.4,131.7 700.5,131.2 703.5,131.8 704.7,140.8 706.5,142.0 708.9,143.3 711.3,141.4 713.8,139.6 715.4,138.7 717.0,137.7 718.6,137.8 720.4,140.7 722.2,142.6 725.2,141.4 728.2,144.5 730.0,144.0 731.9,143.3 733.7,143.8 735.5,143.9 738.5,141.4 739.7,148.1 741.5,148.7 743.1,147.6 744.8,147.5 747.8,146.9 750.9,148.1 753.9,146.9 755.7,140.8 758.1,138.4 759.9,139.0 761.7,140.8 763.5,137.8 765.9,139.0 768.3,142.0 770.2,134.2 772.6,133.6 774.4,133.4 776.2,131.8 778.0,134.2 781.0,133.0 783.4,134.8 785.2,135.3 787.0,134.8 788.9,135.1 790.7,136.6 793.1,131.2 795.2,130.9 797.3,131.2 799.4,132.4 801.5,133.0 803.3,133.3 805.1,133.0 806.9,136.0 808.5,136.9 810.2,136.3 811.8,136.6 813.6,136.2 815.4,134.8 817.5,135.1 819.6,134.8 822.0,129.4 824.4,127.6 826.2,126.9 828.1,126.9 829.9,126.4 832.3,122.1 834.1,123.0 835.9,122.7 838.0,122.3 840.0,120.9 840.5,119.9 843.4,124.0 846.4,122.2 848.1,117.5 849.9,116.3 851.7,111.7 854.0,108.1 856.3,110.5 857.5,111.7 859.9,108.7 861.6,108.7 864.0,111.7 866.9,113.4 869.2,111.4 871.6,109.3 873.4,109.1 875.1,108.7 876.9,109.5 878.6,111.7 880.4,112.8 882.1,114.6 885.1,111.1 887.4,111.1 890.3,115.8 892.1,114.2 893.9,111.7 895.6,113.9 897.4,116.3 899.1,113.8 900.9,112.2 902.6,111.7 904.4,111.1 907.3,109.9 910.3,109.3 912.6,103.4 915.0,99.3 917.9,99.9 919.6,99.1 921.4,97.6 924.3,100.5 926.7,99.3 927.9,101.1" fill="none" stroke="#111" stroke-width="1.6" stroke-linejoin="round"/>
<rect x="60.8" y="533" width="888" height="2" fill="#2B2B2B"/>
<text x="232.00" y="40.8" font-size="23.5" fill="#333" font-weight="bold" textLength="547.00" lengthAdjust="spacingAndGlyphs" stroke="#333" stroke-width="0.9">Long-Term Holder Binary Spending Indicator</text>
<rect x="74.5" y="42.5" width="60" height="23" rx="2" fill="#fff" stroke="#EFEFEF" stroke-width="1"/>
<text x="83.30" y="56.8" font-size="8.8" fill="#444" font-weight="normal" textLength="29.90" lengthAdjust="spacingAndGlyphs" >Info On</text>
<polygon points="123.6,50.5 129.4,50.5 126.5,56.2" fill="#222"/>
<rect x="882.7" y="42.5" width="86.7" height="23" rx="2" fill="#fff" stroke="#EFEFEF" stroke-width="1"/>
<text x="891.00" y="56.8" font-size="8.8" fill="#444" font-weight="normal" textLength="55.00" lengthAdjust="spacingAndGlyphs" >Default Zoom</text>
<polygon points="959.7,50.5 965.4,50.5 962.55,56.2" fill="#222"/>
<rect x="222.7" y="69.5" width="21.1" height="5" rx="1" fill="#F9A440"/><circle cx="233.2" cy="70.4" r="2" fill="#F7971D"/>
<text x="247.20" y="74.8" font-size="12" fill="#333" font-weight="bold" textLength="105.50" lengthAdjust="spacingAndGlyphs" stroke="#333" stroke-width="0.35">Moderate Spending</text>
<rect x="360" y="69.5" width="20.6" height="5" rx="1" fill="#F5668D"/><circle cx="370.3" cy="70.4" r="2" fill="#F24F7C"/>
<text x="384.00" y="74.8" font-size="12" fill="#333" font-weight="bold" textLength="88.80" lengthAdjust="spacingAndGlyphs" stroke="#333" stroke-width="0.35">Heavy Spending</text>
<rect x="480" y="69" width="20.1" height="1.8" fill="#111"/>
<text x="504.00" y="74.8" font-size="12" fill="#333" font-weight="bold" textLength="63.49" lengthAdjust="spacingAndGlyphs" stroke="#333" stroke-width="0.35">Price (USD)</text>
<rect x="574.3" y="69" width="21.2" height="2.4" fill="#2B80FA"/>
<text x="598.90" y="74.8" font-size="12" fill="#333" font-weight="bold" textLength="61.10" lengthAdjust="spacingAndGlyphs" stroke="#333" stroke-width="0.35">LTH Supply</text>
<rect x="667" y="67.8" width="20.4" height="4.6" fill="#4A93FE"/>
<text x="691.00" y="74.8" font-size="12" fill="#333" font-weight="bold" textLength="94.81" lengthAdjust="spacingAndGlyphs" stroke="#333" stroke-width="0.35">LTH Spent Binary</text>
<text x="24.10" y="103.8" font-size="10" fill="#111" font-weight="bold" textLength="30.48" lengthAdjust="spacingAndGlyphs" stroke="#111" stroke-width="0.3">$100k</text>
<text x="31.00" y="165.8" font-size="10" fill="#111" font-weight="bold" textLength="23.59" lengthAdjust="spacingAndGlyphs" stroke="#111" stroke-width="0.3">$10k</text>
<text x="24.10" y="227.7" font-size="10" fill="#111" font-weight="bold" textLength="30.50" lengthAdjust="spacingAndGlyphs" stroke="#111" stroke-width="0.3">$1000</text>
<text x="30.30" y="289.7" font-size="10" fill="#111" font-weight="bold" textLength="24.30" lengthAdjust="spacingAndGlyphs" stroke="#111" stroke-width="0.3">$100</text>
<text x="36.50" y="351.6" font-size="10" fill="#111" font-weight="bold" textLength="18.11" lengthAdjust="spacingAndGlyphs" stroke="#111" stroke-width="0.3">$10</text>
<text x="42.70" y="413.6" font-size="10" fill="#111" font-weight="bold" textLength="11.90" lengthAdjust="spacingAndGlyphs" stroke="#111" stroke-width="0.3">$1</text>
<text x="32.80" y="475.5" font-size="10" fill="#111" font-weight="bold" textLength="21.80" lengthAdjust="spacingAndGlyphs" stroke="#111" stroke-width="0.3">$0.1</text>
<text x="26.70" y="537.5" font-size="10" fill="#111" font-weight="bold" textLength="27.91" lengthAdjust="spacingAndGlyphs" stroke="#111" stroke-width="0.3">$0.01</text>
<text x="122.30" y="549.8" font-size="11" fill="#333" font-weight="bold" textLength="49.70" lengthAdjust="spacingAndGlyphs" stroke="#333" stroke-width="0.3">01-Jan-16</text>
<text x="295.20" y="549.8" font-size="11" fill="#333" font-weight="bold" textLength="49.60" lengthAdjust="spacingAndGlyphs" stroke="#333" stroke-width="0.3">01-Jan-18</text>
<text x="467.90" y="549.8" font-size="11" fill="#333" font-weight="bold" textLength="50.00" lengthAdjust="spacingAndGlyphs" stroke="#333" stroke-width="0.3">01-Jan-20</text>
<text x="641.00" y="549.8" font-size="11" fill="#333" font-weight="bold" textLength="49.20" lengthAdjust="spacingAndGlyphs" stroke="#333" stroke-width="0.3">01-Jan-22</text>
<text x="813.40" y="549.8" font-size="11" fill="#333" font-weight="bold" textLength="49.60" lengthAdjust="spacingAndGlyphs" stroke="#333" stroke-width="0.3">01-Jan-24</text>
<text x="951.80" y="537.7" font-size="10" fill="#F7931A" font-weight="bold" textLength="6.10" lengthAdjust="spacingAndGlyphs" stroke="#F7931A" stroke-width="0.3">0</text>
<text x="951.80" y="447.12" font-size="10" fill="#F7931A" font-weight="bold" textLength="6.10" lengthAdjust="spacingAndGlyphs" stroke="#F7931A" stroke-width="0.3">1</text>
<text x="951.80" y="356.54" font-size="10" fill="#F7931A" font-weight="bold" textLength="6.10" lengthAdjust="spacingAndGlyphs" stroke="#F7931A" stroke-width="0.3">2</text>
<text x="951.80" y="265.96" font-size="10" fill="#F7931A" font-weight="bold" textLength="6.10" lengthAdjust="spacingAndGlyphs" stroke="#F7931A" stroke-width="0.3">3</text>
<text x="951.80" y="175.38" font-size="10" fill="#F7931A" font-weight="bold" textLength="6.10" lengthAdjust="spacingAndGlyphs" stroke="#F7931A" stroke-width="0.3">4</text>
<text x="951.80" y="84.8" font-size="10" fill="#F7931A" font-weight="bold" textLength="6.10" lengthAdjust="spacingAndGlyphs" stroke="#F7931A" stroke-width="0.3">5</text>
<text x="979.00" y="537.7" font-size="10" fill="#2B80FA" font-weight="bold" textLength="14.00" lengthAdjust="spacingAndGlyphs" stroke="#2B80FA" stroke-width="0.3">6M</text>
<text x="979.00" y="424.48" font-size="10" fill="#2B80FA" font-weight="bold" textLength="14.00" lengthAdjust="spacingAndGlyphs" stroke="#2B80FA" stroke-width="0.3">9M</text>
<text x="979.00" y="311.25" font-size="10" fill="#2B80FA" font-weight="bold" textLength="19.80" lengthAdjust="spacingAndGlyphs" stroke="#2B80FA" stroke-width="0.3">12M</text>
<text x="979.00" y="198.03" font-size="10" fill="#2B80FA" font-weight="bold" textLength="19.80" lengthAdjust="spacingAndGlyphs" stroke="#2B80FA" stroke-width="0.3">15M</text>
<text x="979.00" y="84.8" font-size="10" fill="#2B80FA" font-weight="bold" textLength="19.80" lengthAdjust="spacingAndGlyphs" stroke="#2B80FA" stroke-width="0.3">18M</text>
<text transform="translate(17.9,342.2) rotate(-90)" x="0.00" y="0" font-size="13.5" fill="#111" font-weight="bold" textLength="70.59" lengthAdjust="spacingAndGlyphs" stroke="#111" stroke-width="0.3">Price (USD)</text>
<text transform="translate(976.5,386.6) rotate(-90)" x="0.00" y="0" font-size="13" fill="#F7931A" font-weight="bold" textLength="158.60" lengthAdjust="spacingAndGlyphs" stroke="#F7931A" stroke-width="0.3">Binary Spending Indicator</text>
<text transform="translate(1013.9,347.3) rotate(-90)" x="0.00" y="0" font-size="13" fill="#2B80FA" font-weight="bold" textLength="80.09" lengthAdjust="spacingAndGlyphs" stroke="#2B80FA" stroke-width="0.3">Supply [BTC]</text>
</svg></body></html>
